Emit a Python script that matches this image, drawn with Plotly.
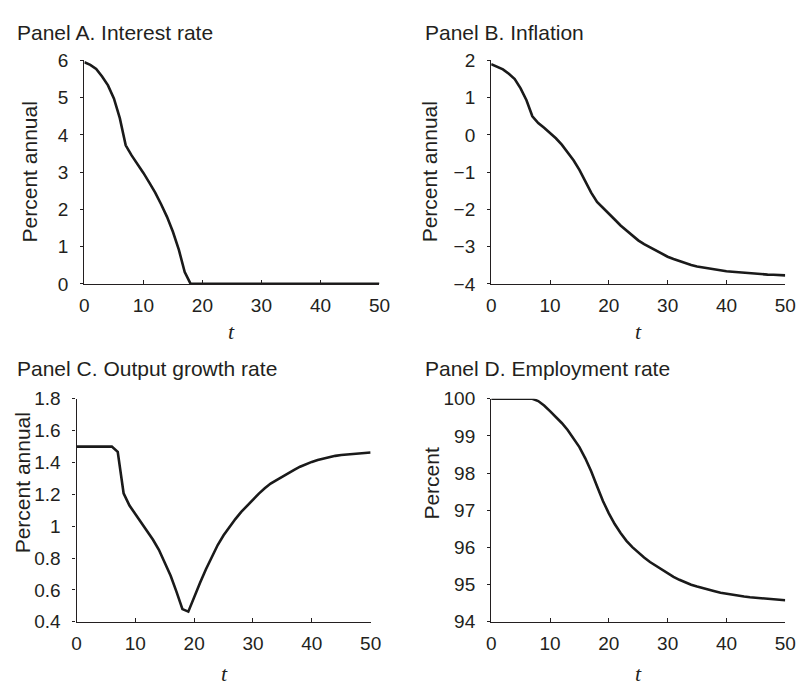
import plotly.graph_objects as go

# ---------------- data ----------------
t = list(range(0, 51))

interest_rate = [5.95, 5.88, 5.77, 5.57, 5.33, 4.98, 4.45, 3.72, 3.45, 3.22,
                 2.98, 2.72, 2.45, 2.14, 1.80, 1.40, 0.92, 0.32, 0.0] + [0.0] * 32

inflation = [1.90, 1.84, 1.76, 1.64, 1.50, 1.25, 0.93, 0.50, 0.32, 0.19,
             0.06, -0.09, -0.26, -0.46, -0.68, -0.94, -1.24, -1.55, -1.80, -1.95,
             -2.10, -2.27, -2.43, -2.57, -2.70, -2.83, -2.93, -3.02, -3.11, -3.19,
             -3.27, -3.33, -3.39, -3.44, -3.49, -3.53, -3.56, -3.59, -3.62, -3.64,
             -3.66, -3.675, -3.69, -3.70, -3.715, -3.73, -3.74, -3.75, -3.755, -3.765,
             -3.77]

output_growth = [1.50, 1.50, 1.50, 1.50, 1.50, 1.50, 1.50, 1.467, 1.207, 1.13,
                 1.075, 1.025, 0.973, 0.915, 0.852, 0.775, 0.689, 0.588, 0.48, 0.464,
                 0.557, 0.645, 0.73, 0.808, 0.882, 0.943, 0.996, 1.045, 1.09, 1.13,
                 1.17, 1.205, 1.238, 1.268, 1.29, 1.313, 1.333, 1.354, 1.374, 1.39,
                 1.404, 1.416, 1.426, 1.435, 1.442, 1.447, 1.451, 1.455, 1.458, 1.461,
                 1.463]

employment = [100.0, 100.0, 100.0, 100.0, 100.0, 100.0, 100.0, 100.0, 99.94, 99.82,
              99.67, 99.52, 99.35, 99.16, 98.94, 98.70, 98.40, 98.05, 97.65, 97.25,
              96.92, 96.63, 96.39, 96.18, 96.01, 95.86, 95.73, 95.61, 95.51, 95.40,
              95.30, 95.21, 95.13, 95.06, 95.00, 94.95, 94.90, 94.86, 94.82, 94.78,
              94.75, 94.72, 94.70, 94.68, 94.66, 94.645, 94.63, 94.615, 94.60, 94.59,
              94.58]

x_ticks = [0, 10, 20, 30, 40, 50]
ticks_a = [0, 1, 2, 3, 4, 5, 6]
ticks_b = [-4, -3, -2, -1, 0, 1, 2]
labels_b = ["\u22124", "\u22123", "\u22122", "\u22121", "0", "1", "2"]
ticks_c = [0.4, 0.6, 0.8, 1.0, 1.2, 1.4, 1.6, 1.8]
labels_c = ["0.4", "0.6", "0.8", "1", "1.2", "1.4", "1.6", "1.8"]
ticks_d = [94, 95, 96, 97, 98, 99, 100]

panel_titles = ["Panel A. Interest rate", "Panel B. Inflation",
                "Panel C. Output growth rate", "Panel D. Employment rate"]
y_titles = ["Percent annual", "Percent annual", "Percent annual", "Percent"]

# ---------------- layout geometry ----------------
W, H = 809, 691
TXT = "#231f20"
SANS = "Liberation Sans, Arial, sans-serif"

def px_x(v):
    return v / W

def px_y(v):
    return 1 - v / H

fig = go.Figure()
series = [interest_rate, inflation, output_growth, employment]
for i, s in enumerate(series):
    fig.add_trace(go.Scatter(
        x=t, y=s, mode="lines",
        line=dict(color="#1a1a1a", width=2.6),
        xaxis="x" if i == 0 else f"x{i+1}",
        yaxis="y" if i == 0 else f"y{i+1}",
        showlegend=False, hoverinfo="skip", cliponaxis=False,
    ))

# plot areas (pixels): left, right, top, bottom
areas = [(81, 382, 52, 282.5), (496, 796, 52, 282.5),
         (73, 373, 401, 631), (496, 796, 401, 631)]
yranges = [[0, 6], [-4, 2], [0.4, 1.8], [94, 100]]
ytickv = [ticks_a, ticks_b, ticks_c, ticks_d]
ytickt = [[str(v) for v in ticks_a], labels_b, labels_c, [str(v) for v in ticks_d]]

for i, (l, r, tp, b) in enumerate(areas):
    xa = "xaxis" if i == 0 else f"xaxis{i+1}"
    ya = "yaxis" if i == 0 else f"yaxis{i+1}"
    xanchor = "y" if i == 0 else f"y{i+1}"
    yanchor = "x" if i == 0 else f"x{i+1}"
    fig.layout[xa] = dict(
        domain=[px_x(l), px_x(r)], anchor=xanchor, range=[0, 50],
        tickvals=x_ticks, ticks="inside", ticklen=4, tickwidth=1.2,
        tickcolor="#231f20", showline=True, linecolor="#231f20", linewidth=1.3,
        showgrid=False, zeroline=False,
        tickfont=dict(family=SANS, size=19, color=TXT),
        ticklabelstandoff=4,
    )
    fig.layout[ya] = dict(
        domain=[px_y(b), px_y(tp)], anchor=yanchor, range=yranges[i],
        tickvals=ytickv[i], ticktext=ytickt[i],
        ticks="outside", ticklen=3, tickwidth=1.2,
        tickcolor="#231f20", showline=True, linecolor="#231f20", linewidth=1.3,
        showgrid=False, zeroline=False,
        tickfont=dict(family=SANS, size=19, color=TXT),
        ticklabelstandoff=8,
    )

annotations = []
title_pos = [(10, 23), (426, 23), (10, 370), (426, 370)]
for (x, y), txt in zip(title_pos, panel_titles):
    annotations.append(dict(
        text=txt, x=px_x(x), y=px_y(y), xref="paper", yref="paper",
        xanchor="left", yanchor="middle", showarrow=False,
        font=dict(family=SANS, size=21, color=TXT)))

ytitle_pos = [(25, 167), (434, 167), (17.5, 488), (435, 488)]
for (x, y), txt in zip(ytitle_pos, y_titles):
    annotations.append(dict(
        text=txt, x=px_x(x), y=px_y(y), xref="paper", yref="paper",
        xanchor="center", yanchor="middle", showarrow=False, textangle=-90,
        font=dict(family=SANS, size=21, color=TXT)))

xtitle_pos = [(231, 332), (646, 332), (224, 684), (646, 684)]
for (x, y) in xtitle_pos:
    annotations.append(dict(
        text="<i>t</i>", x=px_x(x), y=px_y(y), xref="paper", yref="paper",
        xanchor="center", yanchor="middle", showarrow=False,
        font=dict(family="Liberation Serif, Times New Roman, serif", size=22, color=TXT)))

fig.update_layout(
    width=W, height=H,
    margin=dict(l=0, r=0, t=0, b=0),
    paper_bgcolor="white", plot_bgcolor="white",
    annotations=annotations,
    showlegend=False,
)

fig.write_html("out.html")
